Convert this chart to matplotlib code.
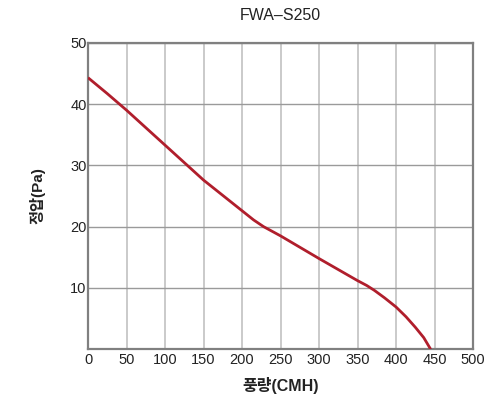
import matplotlib
matplotlib.use("Agg")
import matplotlib.pyplot as plt

flow = [0, 25, 50, 100, 150, 200, 215, 228, 250, 300, 350, 362, 372, 385, 400, 413, 425, 436, 445]
pressure = [44.3, 41.7, 39.0, 33.3, 27.6, 22.6, 21.1, 20.0, 18.5, 14.8, 11.2, 10.4, 9.6, 8.4, 6.9, 5.3, 3.6, 1.9, 0.0]
x_ticks = [0, 50, 100, 150, 200, 250, 300, 350, 400, 450, 500]
y_ticks = [10, 20, 30, 40, 50]

plt.rcParams['font.family'] = ['Liberation Sans', 'Noto Sans CJK KR']

fig = plt.figure(figsize=(4.87, 4.03), dpi=100)
ax = fig.add_axes([0.1807, 0.1333, 0.7906, 0.7607])

for xv in x_ticks:
    ax.axvline(xv, color='#c6c6c6', lw=1.3, zorder=1)
for yv in y_ticks:
    ax.axhline(yv, color='#9a9a9a', lw=1.0, zorder=1)

ax.plot(flow, pressure, color='#b01e2c', lw=2.0, zorder=3,
        solid_capstyle='butt', solid_joinstyle='round')

ax.set_xlim(0, 500)
ax.set_ylim(0, 50)
ax.set_xticks(x_ticks)
ax.set_yticks(y_ticks)
ax.set_xticklabels([str(v) for v in x_ticks], fontsize=10.5, color='#222222')
ax.set_yticklabels([str(v) for v in y_ticks], fontsize=10.5, color='#222222')
ax.tick_params(axis='x', length=0, pad=3)
ax.tick_params(axis='y', length=0, pad=1)
for s in ax.spines.values():
    s.set_color('#808080')
    s.set_linewidth(1.6)

ax.set_xlabel('풍량(CMH)', fontsize=11.5, fontweight='bold', color='#222222', labelpad=7)
ax.set_ylabel('정압(Pa)', fontsize=11, fontweight='bold', color='#222222', labelpad=18)
ax.set_title('FWA\u2013S250', fontsize=11.5, color='#222222', pad=16)

fig.savefig('out.png', dpi=100)
